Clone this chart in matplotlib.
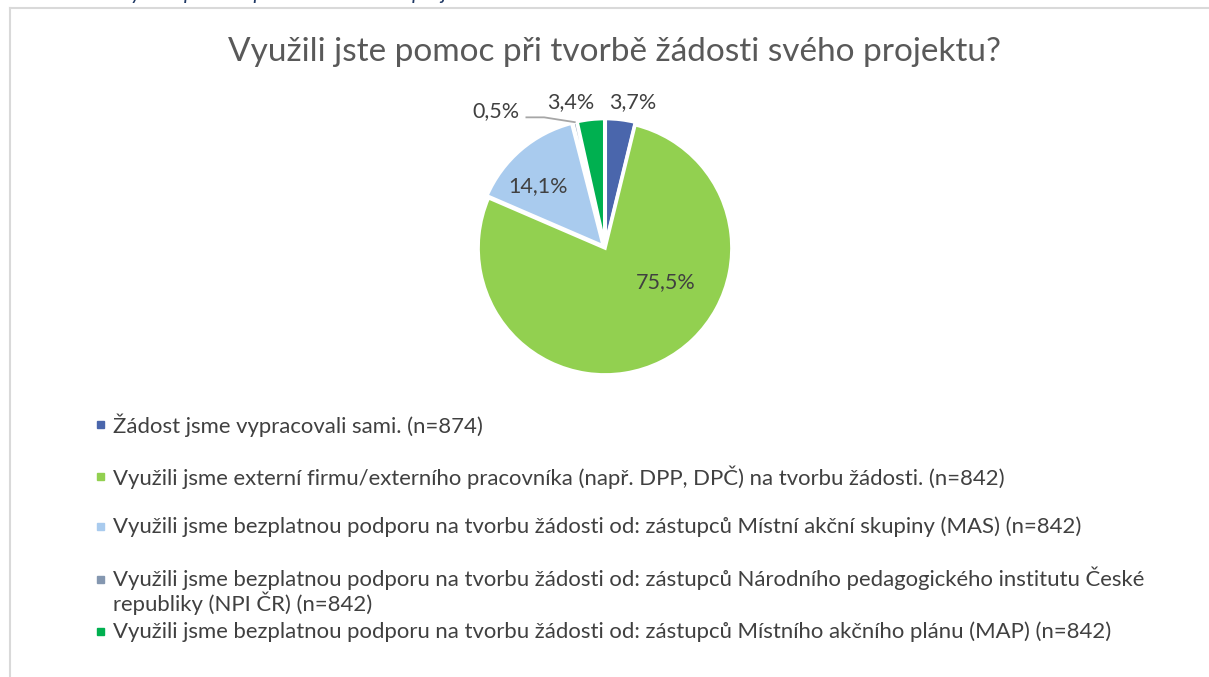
import numpy as np
import matplotlib
matplotlib.use("Agg")
import matplotlib.pyplot as plt
from matplotlib.patches import Rectangle

plt.rcParams["font.family"] = ["Lato", "DejaVu Sans"]

TITLE = "Využili jste pomoc při tvorbě žádosti svého projektu?"
CAPTION = "Obrázek 6 Využití pomoci při tvorbě žádosti projektu"

categories = [
    "Žádost jsme vypracovali sami. (n=874)",
    "Využili jsme externí firmu/externího pracovníka (např. DPP, DPČ) na tvorbu žádosti. (n=842)",
    "Využili jsme bezplatnou podporu na tvorbu žádosti od: zástupců Místní akční skupiny (MAS) (n=842)",
    "Využili jsme bezplatnou podporu na tvorbu žádosti od: zástupců Národního pedagogického institutu České\nrepubliky (NPI ČR) (n=842)",
    "Využili jsme bezplatnou podporu na tvorbu žádosti od: zástupců Místního akčního plánu (MAP) (n=842)",
]
values = [3.7, 75.5, 14.1, 0.5, 3.4]
colors = ["#4A66AC", "#92D050", "#A9CBEE", "#8497B0", "#00B050"]

# label placement: (radius, angle offset in degrees) per slice
label_pos = [(1.17, -4), (0.55, 34), (0.72, 7), (1.38, 25), (1.18, 7)]

TEXT = "#404040"

fig = plt.figure(figsize=(12.09, 6.77), dpi=100, facecolor="white")
W, H = 1209, 677

# chart border (page frame)
fig.add_artist(plt.Line2D([10 / W, 10 / W], [0, 1 - 8 / H], color="#D9D9D9", lw=1.5,
                          transform=fig.transFigure))
fig.add_artist(plt.Line2D([10 / W, 1], [1 - 8 / H, 1 - 8 / H], color="#D9D9D9", lw=1.5,
                          transform=fig.transFigure))

# caption cut off at top of the crop
fig.text(22 / W, 1 + 1 / H, CAPTION, fontsize=15.3, style="italic", color="#1F3864",
         va="baseline", ha="left")

fig.text(614 / W, 1 - 52 / H, TITLE, fontsize=24, color="#595959", ha="center", va="center")

# pie
cx, cy, R = 605, 248, 122
half = 1.3
side = 2 * half * R
ax = fig.add_axes([(cx - side / 2) / W, (H - cy - side / 2) / H, side / W, side / H])
ax.set_xlim(-half, half)
ax.set_ylim(-half, half)
ax.set_aspect("equal")
ax.axis("off")

wedges, _ = ax.pie(values, colors=colors, startangle=90, counterclock=False,
                   explode=[0.02, 0.0, 0.02, 0.02, 0.02],
                   wedgeprops=dict(edgecolor="white", linewidth=2.5))

for w, v, (r, off) in zip(wedges, values, label_pos):
    mid = np.deg2rad((w.theta1 + w.theta2) / 2 + off)
    lx, ly = r * np.cos(mid), r * np.sin(mid)
    lbl = f"{v:.1f}".replace(".", ",") + "%"
    ax.text(lx, ly, lbl, fontsize=15.5, color=TEXT, ha="center", va="center")

# leader line for the tiny slice
w = wedges[3]
mid = np.deg2rad((w.theta1 + w.theta2) / 2)
r, off = label_pos[3]
lm = np.deg2rad((w.theta1 + w.theta2) / 2 + off)
lx, ly = r * np.cos(lm), r * np.sin(lm)
ax.plot([lx + 0.24, lx + 0.38, np.cos(mid) * 1.02], [ly - 0.05, ly - 0.05, np.sin(mid) * 1.02],
        color="#A6A6A6", lw=1.3)

# legend
leg_y = [425, 477, 527, 580, 632]
for cat, col, y in zip(categories, colors, leg_y):
    fig.add_artist(Rectangle((97 / W, (H - y - 3) / H), 7.5 / W, 7.5 / H, color=col,
                             transform=fig.transFigure))
    if "\n" in cat:
        fig.text(113 / W, 1 - (y - 13) / H, cat, fontsize=15.9, color=TEXT, ha="left",
                 va="top", linespacing=1.05)
    else:
        fig.text(113 / W, 1 - y / H, cat, fontsize=15.9, color=TEXT, ha="left", va="center")

fig.savefig("out.png", dpi=100, facecolor="white")
